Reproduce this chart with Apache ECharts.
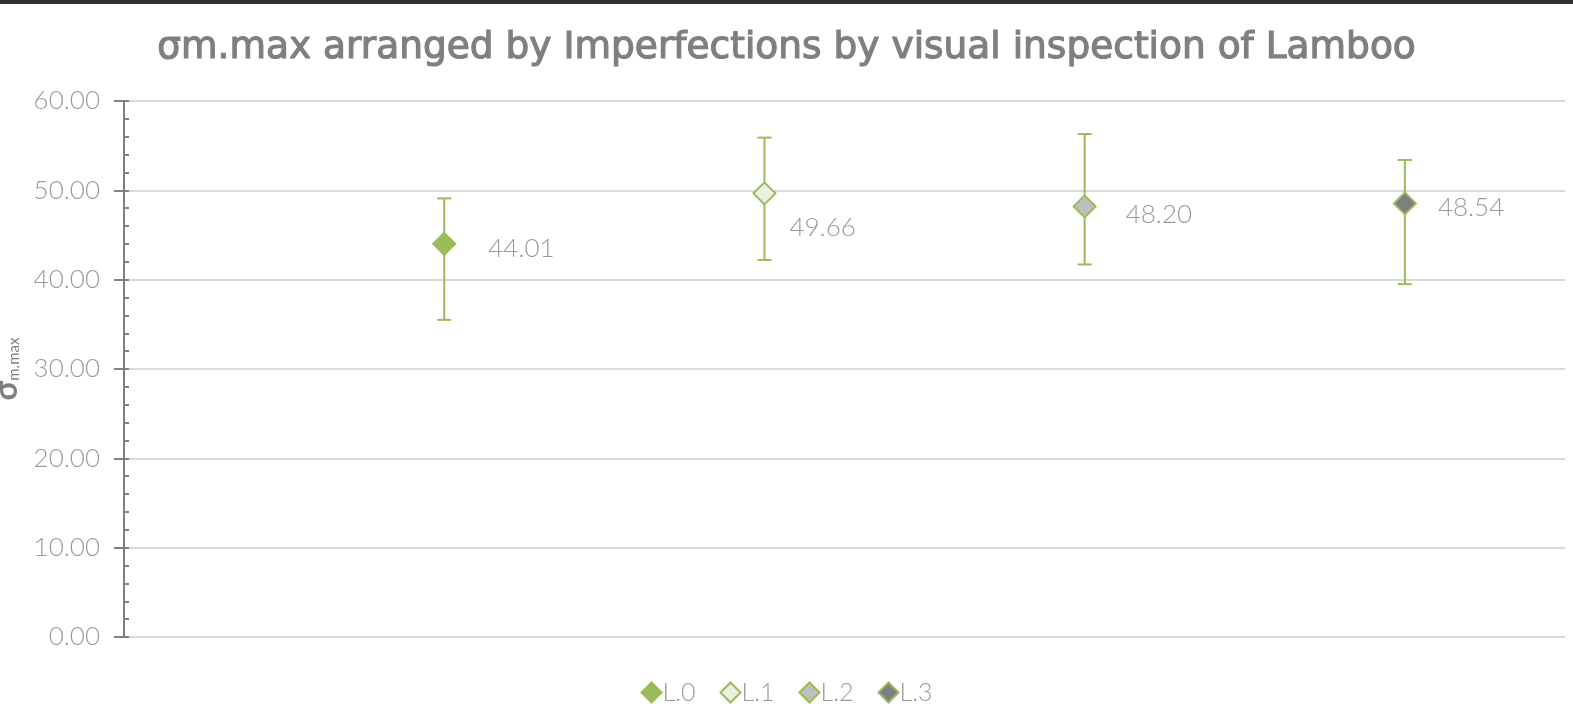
<!DOCTYPE html>
<html>
<head>
<meta charset="utf-8">
<script src="https://cdn.jsdelivr.net/npm/echarts@6/dist/echarts.min.js"></script>
<style>
  html, body { margin: 0; padding: 0; background: #fff; }
  #main { width: 1573px; height: 712px; }
</style>
</head>
<body>
<div id="main"></div>
<script>
// values
const categories = ['L.0', 'L.1', 'L.2', 'L.3']
const xPos = [1, 2, 3, 4]
const means = [44.01, 49.66, 48.20, 48.54]
const errHigh = [49.1, 55.9, 56.3, 53.4]
const errLow = [35.5, 42.2, 41.7, 39.5]
const yTicks = [0, 10, 20, 30, 40, 50, 60]

// marker look per category
const fills = ['#9BBB59', '#EBF1DE', '#BFBFBF', '#7F7F7F']
const labelShift = [[32, 5], [13, 34], [29, 8], [21, 4]]
const green = '#9BBB59'
const font = 'Lato'

const chart = echarts.init(document.getElementById('main'))

const pointSeries = categories.map((name, i) => ({
  name: name,
  type: 'scatter',
  xAxisIndex: 0,
  yAxisIndex: 0,
  symbol: 'diamond',
  symbolSize: 22,
  z: 5,
  itemStyle: { color: fills[i], borderColor: green, borderWidth: 2, opacity: 1 },
  label: {
    show: true,
    position: 'right',
    distance: 0,
    offset: labelShift[i],
    formatter: p => p.value[1].toFixed(2),
    color: '#9A9A9A',
    fontSize: 26,
    fontFamily: font,
    fontWeight: 300
  },
  emphasis: { disabled: true },
  data: [[xPos[i], means[i]]]
}))

// error bars drawn through the axes
const errorSeries = {
  type: 'custom',
  name: 'err',
  xAxisIndex: 0,
  yAxisIndex: 0,
  z: 3,
  silent: true,
  data: xPos.map((x, i) => [x, errLow[i], errHigh[i]]),
  renderItem: function (params, api) {
    const lo = api.coord([api.value(0), api.value(1)])
    const hi = api.coord([api.value(0), api.value(2)])
    const w = 7
    const style = { stroke: green, lineWidth: 2 }
    return {
      type: 'group',
      children: [
        { type: 'line', shape: { x1: lo[0], y1: lo[1], x2: hi[0], y2: hi[1] }, style: style },
        { type: 'line', shape: { x1: lo[0] - w, y1: lo[1], x2: lo[0] + w, y2: lo[1] }, style: style },
        { type: 'line', shape: { x1: hi[0] - w, y1: hi[1], x2: hi[0] + w, y2: hi[1] }, style: style }
      ]
    }
  }
}

const gridBox = { left: 124, right: 8, top: 101, bottom: 75, outerBoundsMode: 'none', containLabel: false }

chart.setOption({
  backgroundColor: '#fff',
  animation: false,
  title: {
    text: 'σm.max arranged by Imperfections by visual inspection of Lamboo',
    left: 'center',
    top: 24,
    textStyle: {
      color: '#7F7F7F',
      fontSize: 37.5,
      fontWeight: 'normal',
      fontFamily: 'DejaVu Sans',
      textBorderColor: '#7F7F7F',
      textBorderWidth: 1.2
    }
  },
  graphic: [{
    type: 'rect',
    shape: { x: 0, y: 0, width: 1573, height: 4 },
    style: { fill: '#303030' }
  }],
  legend: {
    data: categories,
    bottom: 2,
    left: 'center',
    itemGap: 24,
    itemWidth: 20,
    itemHeight: 20,
    textStyle: { color: '#9A9A9A', fontSize: 25, fontFamily: font, fontWeight: 300, padding: [0, 0, 0, -4] }
  },
  grid: [
    Object.assign({}, gridBox),
    Object.assign({}, gridBox)
  ],
  xAxis: [
    { type: 'value', gridIndex: 0, min: 0, max: 4.5, show: false },
    { type: 'value', gridIndex: 1, min: 0, max: 4.5, show: false }
  ],
  yAxis: [
    {
      type: 'value',
      gridIndex: 0,
      min: yTicks[0],
      max: yTicks[yTicks.length - 1],
      interval: 10,
      name: '{s|σ}{sub|m.max}',
      nameLocation: 'middle',
      nameRotate: 90,
      nameGap: 84,
      nameTextStyle: {
        rich: {
          s: { fontSize: 32, color: '#7F7F7F', fontWeight: 'bold', fontFamily: font },
          sub: { fontSize: 15, color: '#7F7F7F', fontFamily: font, padding: [14, 0, 0, 0] }
        }
      },
      axisLine: { show: true, lineStyle: { color: '#808080', width: 2 } },
      axisTick: { show: true, length: 10, lineStyle: { color: '#808080', width: 2 } },
      axisLabel: {
        margin: 24,
        color: '#9A9A9A',
        fontSize: 26,
        fontFamily: font,
        fontWeight: 300,
        formatter: v => v.toFixed(2)
      },
      splitLine: { show: true, lineStyle: { color: '#D9D9D9', width: 2 } }
    },
    {
      type: 'value',
      gridIndex: 1,
      min: 0,
      max: 60,
      interval: 2,
      axisLine: { show: false },
      axisTick: { show: true, inside: true, length: 5, lineStyle: { color: '#808080', width: 2 } },
      axisLabel: { show: false },
      splitLine: { show: false }
    }
  ],
  series: [errorSeries].concat(pointSeries)
})
</script>
</body>
</html>
